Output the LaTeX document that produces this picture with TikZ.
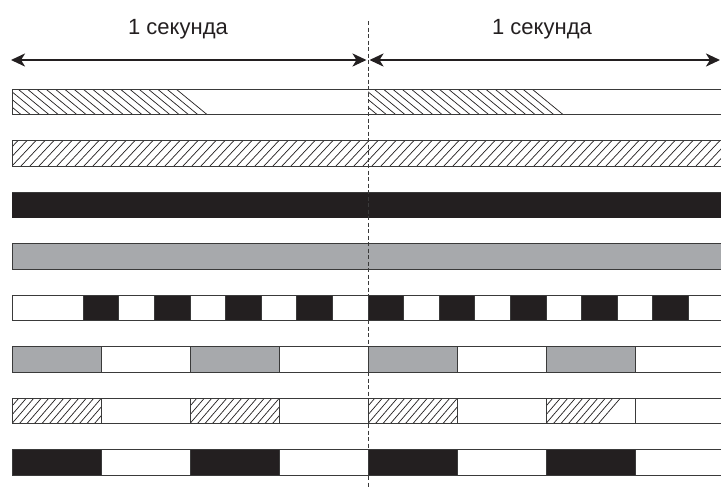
\documentclass[tikz,border=0pt]{standalone}
\usepackage{fontspec}
\setmainfont{Liberation Sans}
\usetikzlibrary{arrows.meta}
\definecolor{ink}{HTML}{231F20}
\definecolor{midgray}{HTML}{A7A9AC}
\definecolor{edge}{HTML}{3A3A3A}
\tikzset{
  rowline/.style={draw=edge, line width=1pt},
  hatchline/.style={draw=ink, line width=0.7pt},
  timearrow/.style={draw=ink, line width=2.3pt, {Stealth[length=14pt,width=13pt,inset=4pt]}-{Stealth[length=14pt,width=13pt,inset=4pt]}},
  secondlabel/.style={font=\fontsize{22}{26}\selectfont, text=ink, inner sep=0pt, anchor=base},
  divider/.style={draw=edge, line width=0.9pt, dash pattern=on 4pt off 2.5pt},
}
\begin{document}
\begin{tikzpicture}[x=1pt,y=-1pt]
\useasboundingbox (0,0) rectangle (721,488);
\fill[white] (0,0) rectangle (721,488);

% labels
\node[secondlabel] (t1) at (178,34) {1 секунда};
\node[secondlabel] (t2) at (542,34) {1 секунда};

% arrows
\coordinate (a1) at (11,60);
\coordinate (a2) at (366.5,60);
\coordinate (a3) at (369.5,60);
\coordinate (a4) at (720,60);
\draw[timearrow] (a1) -- (a2);
\draw[timearrow] (a3) -- (a4);

% Row 1
\begin{scope}
  \clip (12,89) rectangle (368,114.5);
  \foreach \i in {0,...,21} \draw[hatchline] ({176-9.3*\i},89) -- ({207-9.3*\i},114.5);
\end{scope}
\begin{scope}
  \clip (368,89) rectangle (721,114.5);
  \foreach \i in {0,...,21} \draw[hatchline] ({532-9.3*\i},89) -- ({563-9.3*\i},114.5);
\end{scope}
\draw[rowline] (721,89) -- (12,89) -- (12,114.5) -- (721,114.5);

% Row 2
\begin{scope}
  \clip (12,140.5) rectangle (721,166);
  \foreach \i in {-4,...,80} \draw[hatchline] ({12+9*\i},166) -- ({36+9*\i},140.5);
\end{scope}
\draw[rowline] (721,140.5) -- (12,140.5) -- (12,166) -- (721,166);

% Row 3
\fill[ink] (12,192) rectangle (721,217.5);
\draw[draw=edge, line width=0.6pt] (12,192) -- (721,192);

% Row 4
\draw[rowline, fill=midgray] (721,243.5) -- (12,243.5) -- (12,269) -- (721,269);

% Row 5
\foreach \k in {2,4,6,8,10,12,14,16,18}
  \fill[ink] ({12+35.6*\k},295) rectangle ({12+35.6*(\k+1)},320.5);
\draw[rowline] (721,295) -- (12,295) -- (12,320.5) -- (721,320.5);
\foreach \k in {2,...,19}
  \draw[rowline] ({12+35.6*\k},295) -- ({12+35.6*\k},320.5);

% Row 6
\foreach \k in {0,2,4,6}
  \fill[midgray] ({12+89*\k},346.5) rectangle ({12+89*(\k+1)},372);
\draw[rowline] (721,346.5) -- (12,346.5) -- (12,372) -- (721,372);
\foreach \k in {1,...,7}
  \draw[rowline] ({12+89*\k},346.5) -- ({12+89*\k},372);

% Row 7
\foreach \k in {0,2,4}{
  \begin{scope}
    \clip ({12+89*\k},398) rectangle ({12+89*(\k+1)},423.5);
    \foreach \i in {-4,...,12} \draw[hatchline] ({12+89*\k+7.5*\i},423.5) -- ({34+89*\k+7.5*\i},398);
  \end{scope}
}
\begin{scope}
  \clip (546,398) -- (626,398) -- (601,423.5) -- (546,423.5) -- cycle;
  \foreach \i in {-4,...,12} \draw[hatchline] ({546+7.5*\i},423.5) -- ({568+7.5*\i},398);
\end{scope}
\draw[rowline] (721,398) -- (12,398) -- (12,423.5) -- (721,423.5);
\foreach \k in {1,...,7}
  \draw[rowline] ({12+89*\k},398) -- ({12+89*\k},423.5);

% Row 8
\foreach \k in {0,2,4,6}
  \fill[ink] ({12+89*\k},449.5) rectangle ({12+89*(\k+1)},475);
\draw[rowline] (721,449.5) -- (12,449.5) -- (12,475) -- (721,475);
\foreach \k in {1,...,7}
  \draw[rowline] ({12+89*\k},449.5) -- ({12+89*\k},475);

% divider
\coordinate (dtop) at (368,21);
\coordinate (dbot) at (368,488);
\draw[divider] (dtop) -- (dbot);
\end{tikzpicture}
\end{document}
